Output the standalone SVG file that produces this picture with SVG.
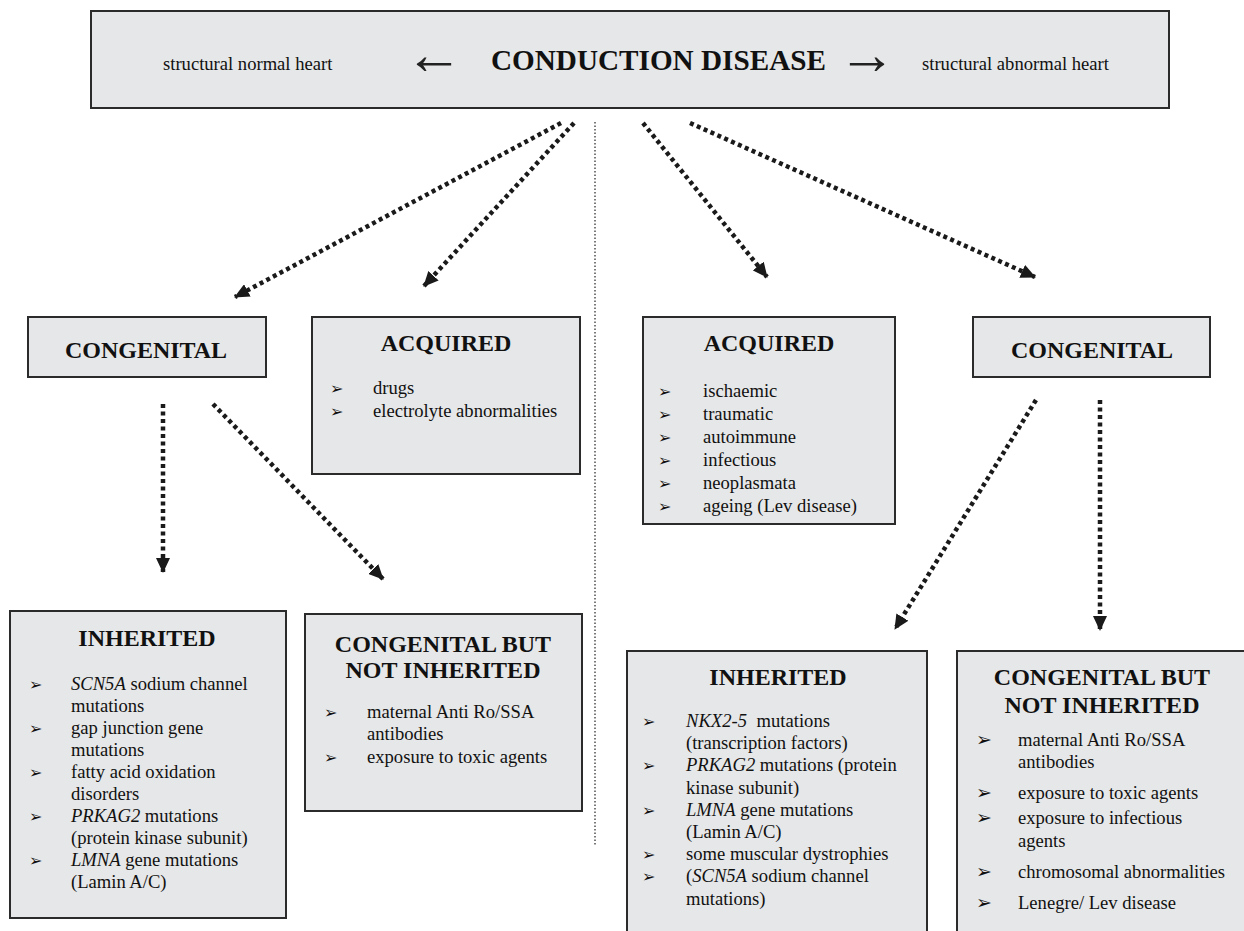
<svg xmlns="http://www.w3.org/2000/svg" width="1244" height="931" viewBox="0 0 1244 931">
<style>
.box{fill:#e6e7e8;stroke:#2b2b2b;stroke-width:2}
.t{font-family:"Liberation Serif","Times New Roman",serif;fill:#111}
.arr{font-family:"Liberation Serif","Times New Roman",serif;font-size:58px;fill:#222}
.title{font-family:"Liberation Serif","Times New Roman",serif;font-weight:bold;font-size:24px;fill:#111;text-anchor:middle}
.li{font-family:"Liberation Serif","Times New Roman",serif;font-size:18.6px;fill:#111}
.bul{font-family:"DejaVu Sans",sans-serif;font-size:16px;fill:#111}
.bul2{font-family:"DejaVu Sans",sans-serif;font-size:19px;fill:#111}
.conn{fill:none;stroke:#1a1a1a;stroke-width:4.5;stroke-dasharray:4 3.5}
.sep{fill:none;stroke:#333;stroke-width:1.3;stroke-dasharray:1.5 2}
</style>
<defs>
<marker id="ah" markerUnits="userSpaceOnUse" markerWidth="16" markerHeight="14" refX="14" refY="7" orient="auto">
<path d="M0,0 L15,7 L0,14 z" fill="#1a1a1a"/>
</marker>
</defs>
<rect width="1244" height="931" fill="#fff"/>

<g id="root">
<rect class="box" x="91" y="11" width="1078" height="97"/>
<text class="t" x="163" y="70" font-size="18.6">structural normal heart</text>
<text class="arr" x="405" y="74">←</text>
<text class="t" x="491" y="70" font-size="29.2" font-weight="bold">CONDUCTION DISEASE</text>
<text class="arr" x="838" y="74">→</text>
<text class="t" x="922" y="70" font-size="18.6">structural abnormal heart</text>
</g>

<g id="connectors">
<line class="sep" x1="595" y1="122" x2="595" y2="846"/>
<line class="conn" x1="561" y1="123" x2="235" y2="297" marker-end="url(#ah)"/>
<line class="conn" x1="574" y1="123" x2="424" y2="286" marker-end="url(#ah)"/>
<line class="conn" x1="643" y1="123" x2="767" y2="277" marker-end="url(#ah)"/>
<line class="conn" x1="690" y1="123" x2="1035" y2="277" marker-end="url(#ah)"/>
<line class="conn" x1="163" y1="404" x2="163" y2="572" marker-end="url(#ah)"/>
<line class="conn" x1="213" y1="404" x2="383" y2="579" marker-end="url(#ah)"/>
<line class="conn" x1="1036" y1="400" x2="895" y2="629" marker-end="url(#ah)"/>
<line class="conn" x1="1100" y1="400" x2="1100" y2="630" marker-end="url(#ah)"/>
</g>

<g id="congenital-left">
<rect class="box" x="28" y="317" width="238" height="60"/>
<text class="title" x="146" y="358">CONGENITAL</text>
</g>

<g id="acquired-left">
<rect class="box" x="312" y="317" width="268" height="157"/>
<text class="title" x="446" y="351">ACQUIRED</text>
<text class="bul" x="330" y="394">➢</text><text class="li" x="373" y="394">drugs</text>
<text class="bul" x="330" y="417">➢</text><text class="li" x="373" y="417">electrolyte abnormalities</text>
</g>

<g id="acquired-right">
<rect class="box" x="643" y="317" width="252" height="207"/>
<text class="title" x="769" y="351">ACQUIRED</text>
<text class="bul" x="658" y="397">➢</text><text class="li" x="703" y="397">ischaemic</text>
<text class="bul" x="658" y="420">➢</text><text class="li" x="703" y="420">traumatic</text>
<text class="bul" x="658" y="443">➢</text><text class="li" x="703" y="443">autoimmune</text>
<text class="bul" x="658" y="466">➢</text><text class="li" x="703" y="466">infectious</text>
<text class="bul" x="658" y="489">➢</text><text class="li" x="703" y="489">neoplasmata</text>
<text class="bul" x="658" y="512">➢</text><text class="li" x="703" y="512">ageing (Lev disease)</text>
</g>

<g id="congenital-right">
<rect class="box" x="973" y="317" width="237" height="60"/>
<text class="title" x="1092" y="358">CONGENITAL</text>
</g>

<g id="inherited-left">
<rect class="box" x="10" y="611" width="276" height="307"/>
<text class="title" x="147" y="646">INHERITED</text>
<text class="bul" x="29" y="690">➢</text><text class="li" x="71" y="690"><tspan font-style="italic">SCN5A</tspan> sodium channel</text>
<text class="li" x="71" y="712">mutations</text>
<text class="bul" x="29" y="734">➢</text><text class="li" x="71" y="734">gap junction gene</text>
<text class="li" x="71" y="756">mutations</text>
<text class="bul" x="29" y="778">➢</text><text class="li" x="71" y="778">fatty acid oxidation</text>
<text class="li" x="71" y="800">disorders</text>
<text class="bul" x="29" y="822">➢</text><text class="li" x="71" y="822"><tspan font-style="italic">PRKAG2</tspan> mutations</text>
<text class="li" x="71" y="844">(protein kinase subunit)</text>
<text class="bul" x="29" y="866">➢</text><text class="li" x="71" y="866"><tspan font-style="italic">LMNA</tspan> gene mutations</text>
<text class="li" x="71" y="888">(Lamin A/C)</text>
</g>

<g id="cbni-left">
<rect class="box" x="305" y="614" width="277" height="197"/>
<text class="title" x="443" y="652">CONGENITAL BUT</text>
<text class="title" x="443" y="678">NOT INHERITED</text>
<text class="bul" x="324" y="718">➢</text><text class="li" x="367" y="718">maternal Anti Ro/SSA</text>
<text class="li" x="367" y="740">antibodies</text>
<text class="bul" x="324" y="763">➢</text><text class="li" x="367" y="763">exposure to toxic agents</text>
</g>

<g id="inherited-right">
<rect class="box" x="627" y="651" width="300" height="290"/>
<text class="title" x="778" y="685">INHERITED</text>
<text class="bul" x="642" y="727">➢</text><text class="li" x="686" y="727"><tspan font-style="italic">NKX2-5</tspan><tspan dx="5"> mutations</tspan></text>
<text class="li" x="686" y="749">(transcription factors)</text>
<text class="bul" x="642" y="771">➢</text><text class="li" x="686" y="771"><tspan font-style="italic">PRKAG2</tspan> mutations (protein</text>
<text class="li" x="686" y="794">kinase subunit)</text>
<text class="bul" x="642" y="816">➢</text><text class="li" x="686" y="816"><tspan font-style="italic">LMNA</tspan> gene mutations</text>
<text class="li" x="686" y="838">(Lamin A/C)</text>
<text class="bul" x="642" y="860">➢</text><text class="li" x="686" y="860">some muscular dystrophies</text>
<text class="bul" x="642" y="882">➢</text><text class="li" x="686" y="882">(<tspan font-style="italic">SCN5A</tspan> sodium channel</text>
<text class="li" x="686" y="905">mutations)</text>
</g>

<g id="cbni-right">
<rect class="box" x="957" y="651" width="300" height="290"/>
<text class="title" x="1102" y="685">CONGENITAL BUT</text>
<text class="title" x="1102" y="713">NOT INHERITED</text>
<text class="bul2" x="976" y="746">➢</text><text class="li" x="1018" y="746">maternal Anti Ro/SSA</text>
<text class="li" x="1018" y="768">antibodies</text>
<text class="bul2" x="976" y="799">➢</text><text class="li" x="1018" y="799">exposure to toxic agents</text>
<text class="bul2" x="976" y="824">➢</text><text class="li" x="1018" y="824">exposure to infectious</text>
<text class="li" x="1018" y="847">agents</text>
<text class="bul2" x="976" y="878">➢</text><text class="li" x="1018" y="878">chromosomal abnormalities</text>
<text class="bul2" x="976" y="909">➢</text><text class="li" x="1018" y="909">Lenegre/ Lev disease</text>
</g>
</svg>
